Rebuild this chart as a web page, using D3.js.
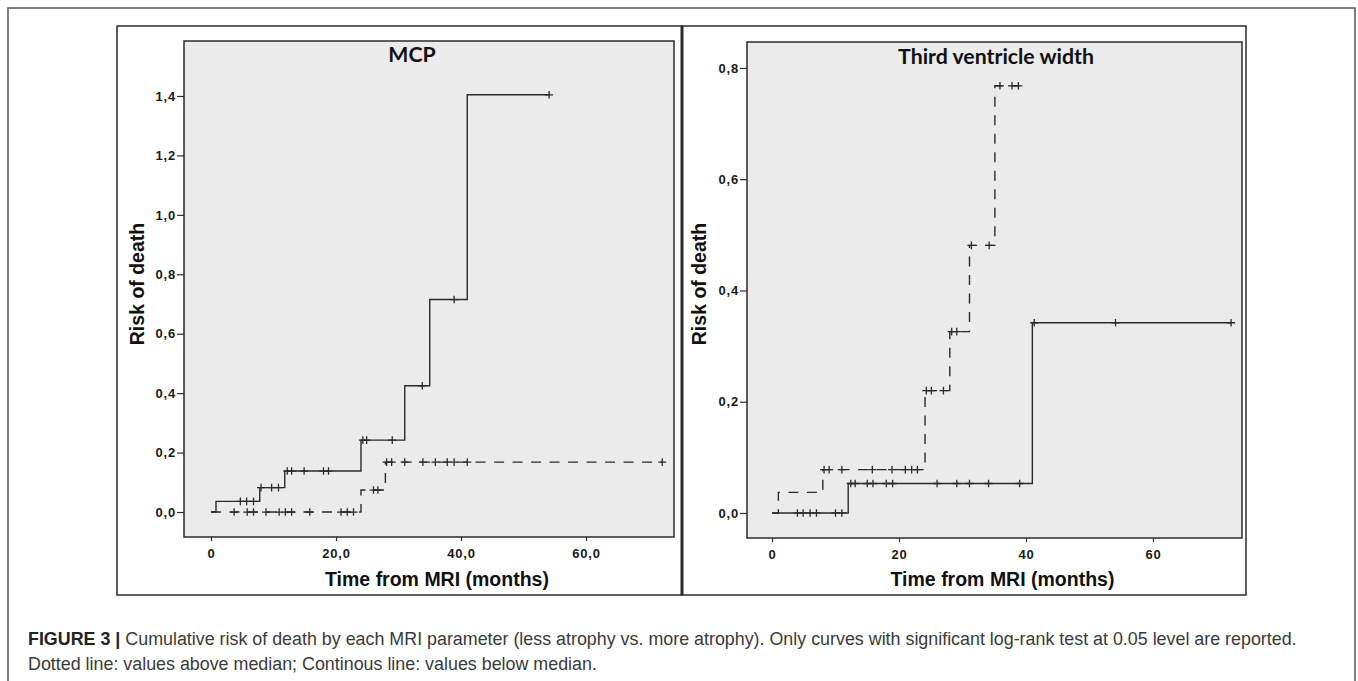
<!DOCTYPE html>
<html>
<head>
<meta charset="utf-8">
<script src="https://cdn.jsdelivr.net/npm/d3@7"></script>
<style>
  body { margin: 0; background: #fff; }
  svg { display: block; }
</style>
</head>
<body>
<script>
// MCP panel: step times and cumulative risk, plus censored times
var mcpSolidTime = [0, 0.8, 7.8, 11.8, 24.0, 31.0, 35.0, 41.0, 54.1];
var mcpSolidRisk = [0, 0.036, 0.082, 0.138, 0.242, 0.425, 0.715, 1.404, 1.404];
var mcpSolidCensor = [4.7, 5.7, 6.8, 8.0, 9.7, 10.8, 12.2, 12.9, 14.9, 18.0, 18.8,
  24.3, 24.9, 29.0, 33.8, 38.9, 54.1];

var mcpDashTime = [0, 24.0, 27.9, 72.2];
var mcpDashRisk = [0, 0.074, 0.168, 0.168];
var mcpDashCensor = [3.7, 5.8, 6.8, 8.8, 10.9, 11.9, 12.9, 15.8, 20.8, 21.8, 22.8,
  26.0, 26.7, 28.1, 28.9, 31.0, 33.9, 35.9, 37.8, 38.9, 41.0, 72.2];

// Third ventricle width panel
var tvSolidTime = [0, 12.0, 41.0, 72.3];
var tvSolidRisk = [0, 0.053, 0.342, 0.342];
var tvSolidCensor = [4.0, 4.9, 6.0, 7.0, 10.0, 11.0, 12.4, 13.1, 15.0, 15.9, 18.0, 19.0,
  26.0, 29.1, 31.1, 34.1, 39.0, 41.3, 54.1, 72.3];

var tvDashTime = [0, 1.0, 8.0, 24.1, 28.0, 31.1, 35.1, 38.8];
var tvDashRisk = [0, 0.037, 0.078, 0.220, 0.326, 0.481, 0.768, 0.768];
var tvDashCensor = [8.2, 9.0, 11.0, 15.8, 18.9, 21.0, 22.0, 22.9, 24.3, 25.1, 27.0,
  28.3, 29.1, 31.4, 34.2, 35.9, 37.8, 38.8];

// tick labels
var mcpXTicks = [0, 20, 40, 60];
var mcpXLabels = ["0", "20,0", "40,0", "60,0"];
var mcpYTicks = [0, 0.2, 0.4, 0.6, 0.8, 1.0, 1.2, 1.4];
var tvXTicks = [0, 20, 40, 60];
var tvXLabels = ["0", "20", "40", "60"];
var tvYTicks = [0, 0.2, 0.4, 0.6, 0.8];

var titles = ["MCP", "Third ventricle width"];
var xTitle = "Time from MRI (months)";
var yTitle = "Risk of death";
var captionBold = "FIGURE 3 | ";
var captionLine1 = "Cumulative risk of death by each MRI parameter (less atrophy vs. more atrophy). Only curves with significant log-rank test at 0.05 level are reported.";
var captionLine2 = "Dotted line: values above median; Continous line: values below median.";

var width = 1358;
var height = 681;
var ink = "#2b2b2b";

var svg = d3.select("body")
  .append("svg")
  .attr("width", width)
  .attr("height", height);

// outer figure frame
svg.append("rect")
  .attr("x", 8).attr("y", 8)
  .attr("width", 1347).attr("height", 700)
  .attr("fill", "none")
  .attr("stroke", "#555")
  .attr("stroke-width", 1.5);

function stepValue(times, risks, t) {
  var i = d3.bisectRight(times, t) - 1;
  return risks[Math.max(0, i)];
}

function fitWidth(sel, w) {
  var cur = sel.node().getComputedTextLength();
  var fs = parseFloat(sel.attr("font-size"));
  sel.attr("font-size", fs * w / cur);
  return fs * w / cur;
}

var panels = [
  {
    box: [117, 26, 682, 595], plot: [184, 41, 674, 537],
    xDomain: [-4.32, 74.08], yDomain: [-0.084, 1.585],
    xTicks: mcpXTicks, xLabels: mcpXLabels, yTicks: mcpYTicks,
    title: titles[0], titleX: 412, titleY: 62,
    yTitleX: 144,
    solid: [mcpSolidTime, mcpSolidRisk, mcpSolidCensor],
    dash: [mcpDashTime, mcpDashRisk, mcpDashCensor]
  },
  {
    box: [682, 26, 1246, 595], plot: [747, 42, 1242, 538],
    xDomain: [-3.94, 74.02], yDomain: [-0.045, 0.8467],
    xTicks: tvXTicks, xLabels: tvXLabels, yTicks: tvYTicks,
    title: titles[1], titleX: 996, titleY: 64,
    yTitleX: 706,
    solid: [tvSolidTime, tvSolidRisk, tvSolidCensor],
    dash: [tvDashTime, tvDashRisk, tvDashCensor]
  }
];

var titleSize = null;

panels.forEach(function(p, idx) {
  var g = svg.append("g");

  g.append("rect")
    .attr("x", p.box[0]).attr("y", p.box[1])
    .attr("width", p.box[2] - p.box[0]).attr("height", p.box[3] - p.box[1])
    .attr("fill", "#fff")
    .attr("stroke", ink)
    .attr("stroke-width", 1.5);

  g.append("rect")
    .attr("x", p.plot[0]).attr("y", p.plot[1])
    .attr("width", p.plot[2] - p.plot[0]).attr("height", p.plot[3] - p.plot[1])
    .attr("fill", "#ebebeb")
    .attr("stroke", ink)
    .attr("stroke-width", 1.5);

  var xScale = d3.scaleLinear().domain(p.xDomain).range([p.plot[0], p.plot[2]]);
  var yScale = d3.scaleLinear().domain(p.yDomain).range([p.plot[3], p.plot[1]]);

  var yAxis = d3.axisLeft(yScale)
    .tickValues(p.yTicks)
    .tickFormat(function(d) { return d3.format(".1f")(d).replace(".", ","); })
    .tickSize(7)
    .tickPadding(1);
  var ya = g.append("g")
    .attr("transform", "translate(" + p.plot[0] + ",0)")
    .call(yAxis);

  var xAxis = d3.axisBottom(xScale)
    .tickValues(p.xTicks)
    .tickFormat(function(d, i) { return p.xLabels[i]; })
    .tickSize(4)
    .tickPadding(8);
  var xa = g.append("g")
    .attr("transform", "translate(0," + p.plot[3] + ")")
    .call(xAxis);

  [ya, xa].forEach(function(a) {
    a.select(".domain").remove();
    a.selectAll(".tick line").attr("stroke", ink).attr("stroke-width", 1.2);
    a.selectAll(".tick text")
      .attr("fill", "#1a1a1a")
      .attr("font-family", "Liberation Sans, Arial, sans-serif")
      .attr("font-weight", "bold")
      .attr("font-size", "13px")
      .attr("letter-spacing", "0.8px");
  });

  // curves
  var line = d3.line()
    .x(function(d) { return xScale(d[0]); })
    .y(function(d) { return yScale(d[1]); })
    .curve(d3.curveStepAfter);

  [["solid", null], ["dash", "10,8.5"]].forEach(function(kind) {
    var s = p[kind[0]];
    var pts = s[0].map(function(t, i) { return [t, s[1][i]]; });
    g.append("path")
      .datum(pts)
      .attr("d", line)
      .attr("fill", "none")
      .attr("stroke", ink)
      .attr("stroke-width", 1.4)
      .attr("stroke-dasharray", kind[1]);

    g.selectAll(null)
      .data(s[2])
      .enter()
      .append("path")
      .attr("d", function(t) {
        var cx = xScale(t);
        var cy = yScale(stepValue(s[0], s[1], t));
        return "M" + (cx - 4) + "," + cy + "H" + (cx + 4) +
          "M" + cx + "," + (cy - 3.8) + "V" + (cy + 3.8);
      })
      .attr("fill", "none")
      .attr("stroke", ink)
      .attr("stroke-width", 1.3);
  });

  // titles
  var t = g.append("text")
    .text(p.title)
    .attr("x", p.titleX)
    .attr("y", p.titleY)
    .attr("text-anchor", "middle")
    .attr("font-family", "Lato, Open Sans, sans-serif")
    .attr("font-weight", "bold")
    .attr("font-size", 20)
    .attr("fill", "#111");
  if (idx === 1) {
    titleSize = fitWidth(t, 196);
    svg.selectAll(".panelTitle").attr("font-size", titleSize);
  }
  t.attr("class", "panelTitle");

  g.append("text")
    .text(xTitle)
    .attr("x", (p.plot[0] + p.plot[2]) / 2 + 8)
    .attr("y", 586)
    .attr("text-anchor", "middle")
    .attr("font-family", "Liberation Sans, Arial, sans-serif")
    .attr("font-weight", "bold")
    .attr("font-size", "19.5px")
    .attr("fill", "#111");

  g.append("text")
    .text(yTitle)
    .attr("transform", "translate(" + p.yTitleX + ",284) rotate(-90)")
    .attr("text-anchor", "middle")
    .attr("font-family", "Liberation Sans, Arial, sans-serif")
    .attr("font-weight", "bold")
    .attr("font-size", "19.5px")
    .attr("fill", "#111");
});

// thick divider between panels
svg.append("line")
  .attr("x1", 682).attr("x2", 682)
  .attr("y1", 26).attr("y2", 595)
  .attr("stroke", ink)
  .attr("stroke-width", 3);

// caption
var c1 = svg.append("text")
  .attr("x", 28).attr("y", 645)
  .attr("font-family", "Liberation Sans, Arial, sans-serif")
  .attr("font-size", 14.5)
  .attr("fill", "#3a3a3a");
c1.append("tspan").attr("font-weight", "bold").attr("fill", "#222").text(captionBold);
c1.append("tspan").text(captionLine1);
var capSize = fitWidth(c1, 1270);

svg.append("text")
  .attr("x", 28).attr("y", 670)
  .attr("font-family", "Liberation Sans, Arial, sans-serif")
  .attr("font-size", capSize)
  .attr("fill", "#3a3a3a")
  .text(captionLine2);
</script>
</body>
</html>
